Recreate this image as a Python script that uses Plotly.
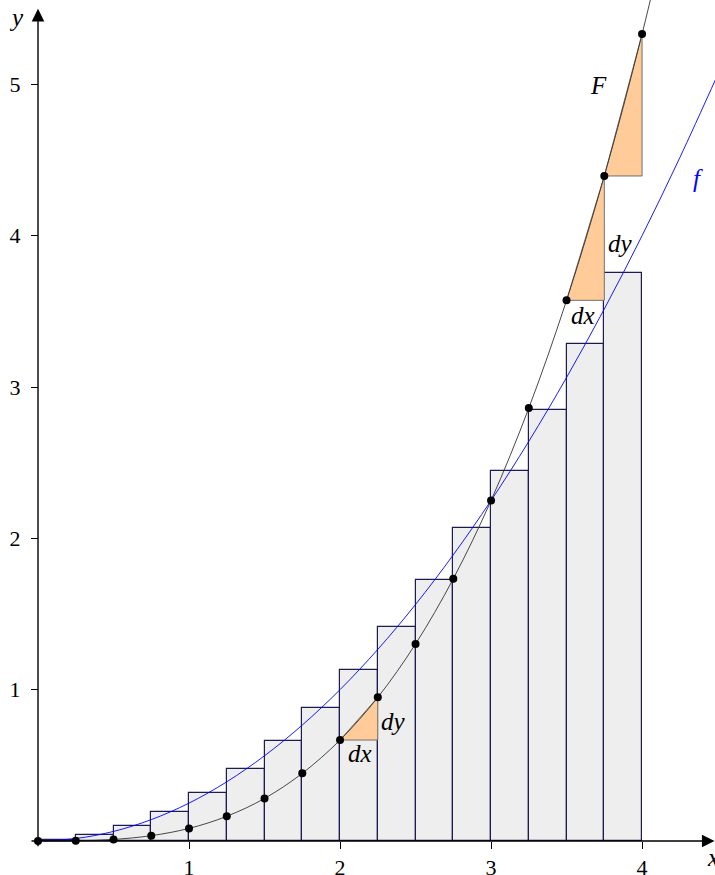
import plotly.graph_objects as go

# ---- data ----
x_nodes = [0, 0.25, 0.5, 0.75, 1, 1.25, 1.5, 1.75, 2, 2.25, 2.5, 2.75, 3, 3.25, 3.5, 3.75, 4]
F_nodes = [0, 0.001, 0.010, 0.035, 0.083, 0.163, 0.281, 0.447, 0.667, 0.949, 1.302,
           1.733, 2.25, 2.861, 3.573, 4.395, 5.333]

F_curve_x = x_nodes + [4.25]
F_curve_y = F_nodes + [6.40]

f_curve_x = [0, 0.25, 0.5, 0.75, 1, 1.25, 1.5, 1.75, 2, 2.25, 2.5, 2.75, 3, 3.25, 3.5,
             3.75, 4, 4.25, 4.5]
f_curve_y = [0, 0.016, 0.063, 0.141, 0.25, 0.391, 0.563, 0.766, 1.0, 1.266, 1.563, 1.891,
             2.25, 2.641, 3.063, 3.516, 4.0, 4.516, 5.063]

bar_left = [0, 0.25, 0.5, 0.75, 1, 1.25, 1.5, 1.75, 2, 2.25, 2.5, 2.75, 3, 3.25, 3.5, 3.75]
bar_height = [0.005, 0.037, 0.099, 0.193, 0.318, 0.474, 0.662, 0.880, 1.130, 1.412,
              1.724, 2.068, 2.443, 2.849, 3.287, 3.755]
bar_width = 0.25

# triangles: (x0, x1) index pairs into nodes
tri_idx = [(8, 9), (14, 15), (15, 16)]

x_ticks = [1, 2, 3, 4]
y_ticks = [1, 2, 3, 4, 5]

labels = [  # text, x, y, colour
    ("F", 3.709, 4.99, "black"),
    ("f", 4.37, 4.38, "blue"),
    ("dy", 3.855, 3.95, "black"),
    ("dx", 3.61, 3.475, "black"),
    ("dy", 2.352, 0.79, "black"),
    ("dx", 2.133, 0.58, "black"),
]

X_RANGE = [-0.2517, 4.483]
Y_RANGE = [-0.225, 5.558]

FONT = "Liberation Serif"

fig = go.Figure()

fig.add_trace(go.Bar(x=bar_left, y=bar_height, width=bar_width, offset=0,
                     marker=dict(color="#eeeeee", line=dict(color="#1c1c50", width=1.2)),
                     hoverinfo="skip", showlegend=False))

for i0, i1 in tri_idx:
    xa, xb = x_nodes[i0], x_nodes[i1]
    ya, yb = F_nodes[i0], F_nodes[i1]
    fig.add_trace(go.Scatter(x=[xa, xb, xb, xa], y=[ya, yb, ya, ya], mode="lines",
                             fill="toself", fillcolor="#ffcc99",
                             line=dict(color="#707070", width=1), showlegend=False,
                             hoverinfo="skip"))

fig.add_trace(go.Scatter(x=F_curve_x, y=F_curve_y, mode="lines",
                         line=dict(color="#333333", width=0.9, shape="spline", smoothing=1),
                         showlegend=False, hoverinfo="skip"))
fig.add_trace(go.Scatter(x=f_curve_x, y=f_curve_y, mode="lines",
                         line=dict(color="blue", width=0.9, shape="spline", smoothing=1),
                         showlegend=False, hoverinfo="skip"))
fig.add_trace(go.Scatter(x=x_nodes, y=F_nodes, mode="markers",
                         marker=dict(color="black", size=8), showlegend=False,
                         hoverinfo="skip"))

for t, lx, ly, c in labels:
    fig.add_annotation(x=lx, y=ly, text="<i>%s</i>" % t, showarrow=False,
                       font=dict(family=FONT, size=25, color=c))

# axis arrows
fig.add_annotation(x=0, y=5.5, ax=0, ay=-0.045, xref="x", yref="y", axref="x", ayref="y",
                   text="", showarrow=True, arrowhead=2, arrowsize=1.8, arrowwidth=1.4,
                   arrowcolor="black")
fig.add_annotation(x=4.48, y=0, ax=-0.053, ay=0, xref="x", yref="y", axref="x", ayref="y",
                   text="", showarrow=True, arrowhead=2, arrowsize=1.8, arrowwidth=1.4,
                   arrowcolor="black")
fig.add_annotation(x=-0.14, y=5.44, text="<i>y</i>", showarrow=False,
                   font=dict(family=FONT, size=25, color="black"))
fig.add_annotation(x=4.415, y=-0.11, text="<i>x</i>", showarrow=False, xanchor="left",
                   font=dict(family=FONT, size=25, color="black"))

xpos = (0 - Y_RANGE[0]) / (Y_RANGE[1] - Y_RANGE[0])
ypos = (0 - X_RANGE[0]) / (X_RANGE[1] - X_RANGE[0])

fig.update_layout(
    width=715, height=875, margin=dict(l=0, r=0, t=0, b=0, pad=0), autosize=False,
    plot_bgcolor="white", paper_bgcolor="white", bargap=0,
    xaxis=dict(range=X_RANGE, showgrid=False, zeroline=False, showline=False,
               tickmode="array", tickvals=x_ticks, ticktext=[str(v) for v in x_ticks],
               ticks="outside", ticklen=7, tickwidth=1, tickcolor="black",
               anchor="free", position=xpos, automargin=False,
               tickfont=dict(family=FONT, size=22, color="black")),
    yaxis=dict(range=Y_RANGE, showgrid=False, zeroline=False, showline=False,
               tickmode="array", tickvals=y_ticks, ticktext=[str(v) for v in y_ticks],
               ticks="outside", ticklen=7, tickwidth=1, tickcolor="black",
               anchor="free", position=ypos, ticklabelstandoff=6, automargin=False,
               tickfont=dict(family=FONT, size=22, color="black")),
)

fig.write_html("out.html", config={"displayModeBar": False},
               post_script="document.body.style.margin='0';document.body.style.padding='0';")
